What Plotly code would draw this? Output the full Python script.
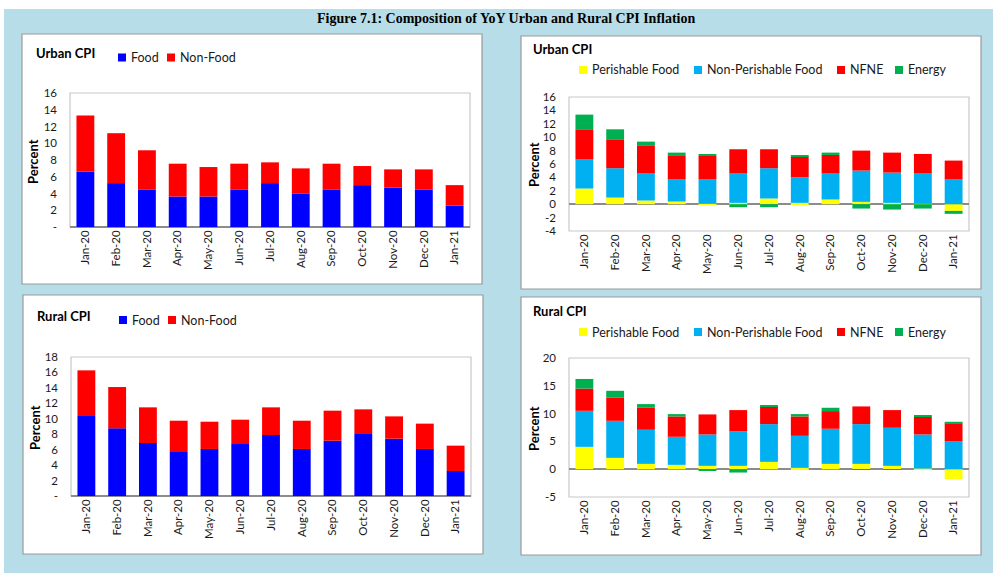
import plotly.graph_objects as go

months = ["Jan-20", "Feb-20", "Mar-20", "Apr-20", "May-20", "Jun-20", "Jul-20",
          "Aug-20", "Sep-20", "Oct-20", "Nov-20", "Dec-20", "Jan-21"]

# Urban CPI: Food / Non-Food
urban_food = [6.6, 5.24, 4.44, 3.64, 3.64, 4.44, 5.24, 3.96, 4.44, 5.0, 4.72, 4.44, 2.56]
urban_nonfood = [6.7, 5.96, 4.72, 3.92, 3.52, 3.12, 2.48, 3.04, 3.12, 2.28, 2.16, 2.44, 2.44]

# Rural CPI: Food / Non-Food
rural_food = [10.36, 8.76, 6.86, 5.70, 6.09, 6.73, 7.90, 6.09, 7.16, 8.03, 7.42, 6.09, 3.24]
rural_nonfood = [5.91, 5.35, 4.62, 4.05, 3.53, 3.15, 3.58, 3.66, 3.89, 3.19, 2.89, 3.28, 3.28]

# Urban CPI: four components
urban_perishable = [2.34, 0.99, 0.55, 0.40, 0.05, 0.20, 0.85, 0.20, 0.70, 0.35, 0.20, 0.05, -1.0]
urban_nonperishable = [4.32, 4.38, 4.02, 3.28, 3.63, 4.37, 4.52, 3.82, 3.87, 4.67, 4.52, 4.52, 3.68]
urban_nfne = [4.52, 4.32, 4.13, 3.52, 3.52, 3.63, 2.83, 3.04, 2.78, 2.98, 2.98, 2.93, 2.83]
urban_energy = [2.19, 1.49, 0.64, 0.50, 0.20, -0.45, -0.45, 0.20, 0.35, -0.65, -0.80, -0.65, -0.44]

# Rural CPI: four components
rural_perishable = [4.02, 2.04, 0.96, 0.78, 0.60, 0.60, 1.32, 0.24, 0.96, 0.96, 0.60, 0.10, -1.80]
rural_nonperishable = [6.48, 6.66, 6.13, 5.05, 5.65, 6.25, 6.79, 5.76, 6.31, 7.15, 6.85, 6.15, 4.98]
rural_nfne = [4.00, 4.15, 4.02, 3.66, 3.60, 3.78, 3.18, 3.49, 3.18, 3.18, 3.18, 3.24, 3.25]
rural_energy = [1.73, 1.25, 0.60, 0.42, -0.20, -0.60, 0.24, 0.42, 0.60, -0.10, -0.10, 0.24, 0.30]

W, H = 995, 575
FONT = "Lato"
TXT = "#1a1a1a"

def px(x):
    return x / W

def py(y):
    return 1 - y / H

fig = go.Figure()

# (values, name, colour, subplot, legend square-left x, legend centre y)
series = [
    (urban_food, "Food", "#0000ff", 1, 118, 57.5),
    (urban_nonfood, "Non-Food", "#ff0000", 1, 167, 57.5),
    (urban_perishable, "Perishable Food", "#ffff00", 2, 579, 70),
    (urban_nonperishable, "Non-Perishable Food", "#00b0f0", 2, 694, 70),
    (urban_nfne, "NFNE", "#ff0000", 2, 837, 70),
    (urban_energy, "Energy", "#00b050", 2, 895, 70),
    (rural_food, "Food", "#0000ff", 3, 119, 320),
    (rural_nonfood, "Non-Food", "#ff0000", 3, 168, 320),
    (rural_perishable, "Perishable Food", "#ffff00", 4, 579, 332),
    (rural_nonperishable, "Non-Perishable Food", "#00b0f0", 4, 694, 332),
    (rural_nfne, "NFNE", "#ff0000", 4, 837, 332),
    (rural_energy, "Energy", "#00b050", 4, 895, 332),
]

shapes = []
ann = []

# blue background
shapes.append(dict(type="rect", xref="paper", yref="paper", x0=px(4), x1=px(993), y0=py(573), y1=py(9),
                   fillcolor="#b7dde8", line=dict(width=0), layer="below"))
# white panels
panels = [(22, 34, 482, 284), (521, 36, 981, 289), (23, 295, 483, 554), (521, 297, 981, 555)]
for (a, b, c, d) in panels:
    shapes.append(dict(type="rect", xref="paper", yref="paper", x0=px(a), x1=px(c), y0=py(d), y1=py(b),
                       fillcolor="white", line=dict(color="#9a9a9a", width=1.2), layer="below"))

for vals, name, color, sp, lx, ly in series:
    sx = "" if sp == 1 else str(sp)
    fig.add_trace(go.Bar(x=months, y=vals, name=name, showlegend=False,
                         marker=dict(color=color, line=dict(width=0)),
                         xaxis="x" + sx, yaxis="y" + sx))
    # legend key
    shapes.append(dict(type="rect", xref="paper", yref="paper", x0=px(lx), x1=px(lx + 8),
                       y0=py(ly + 4), y1=py(ly - 4), fillcolor=color, line=dict(width=0)))
    ann.append(dict(text=name, x=px(lx + 11), y=py(ly), xref="paper", yref="paper", showarrow=False,
                    xanchor="left", yanchor="middle", font=dict(family=FONT, size=12.5, color=TXT)))

domains = {
    1: ((70, 470), (93, 227)),
    2: ((569, 969), (97, 231)),
    3: ((71, 471), (357, 496)),
    4: ((569, 969), (358, 497)),
}
yranges = {1: [0, 16], 2: [-4, 16], 3: [0, 18], 4: [-5, 20]}
ydticks = {1: 2, 2: 2, 3: 2, 4: 5}

layout = dict(
    width=W, height=H, margin=dict(l=0, r=0, t=0, b=0, autoexpand=False),
    paper_bgcolor="white", plot_bgcolor="rgba(0,0,0,0)",
    barmode="relative", bargap=0.42, showlegend=False,
    font=dict(family=FONT, size=11, color=TXT),
)

for i, ((x0, x1), (y0, y1)) in domains.items():
    sx = "" if i == 1 else str(i)
    r = yranges[i]
    d = ydticks[i]
    vals = list(range(r[0], r[1] + 1, d))
    texts = ["-" if (v == 0 and r[0] == 0) else str(v) for v in vals]
    layout["xaxis" + sx] = dict(domain=[px(x0), px(x1)], anchor="y" + sx, tickangle=-90,
                                showgrid=False, showline=False, ticks="",
                                tickfont=dict(family=FONT, size=11.5, color=TXT))
    layout["yaxis" + sx] = dict(domain=[py(y1), py(y0)], anchor="x" + sx, range=r,
                                tickvals=vals, ticktext=texts, showgrid=False,
                                zeroline=True, zerolinecolor="#8c8c8c", zerolinewidth=1.5,
                                ticks="", ticklabelstandoff=12,
                                tickfont=dict(family=FONT, size=11.5, color=TXT))
    # plot area border
    shapes.append(dict(type="rect", xref="x%s domain" % sx, yref="y%s domain" % sx, x0=0, x1=1, y0=0, y1=1,
                       line=dict(color="#c8c8c8", width=1.2), fillcolor="rgba(0,0,0,0)", layer="below"))

fig.update_layout(**layout)

ann.append(dict(text="<b>Figure 7.1: Composition of YoY Urban and Rural CPI Inflation</b>", x=px(506), y=py(19),
                xref="paper", yref="paper", showarrow=False, xanchor="center", yanchor="middle",
                font=dict(family="Liberation Serif", size=14, color="black")))
titles = [("Urban CPI", 34, 53), ("Urban CPI", 531, 49), ("Rural CPI", 35, 316), ("Rural CPI", 531, 311)]
for t, x, y in titles:
    ann.append(dict(text="<b>%s</b>" % t, x=px(x), y=py(y), xref="paper", yref="paper", showarrow=False,
                    xanchor="left", yanchor="middle", font=dict(family=FONT, size=13, color="black")))
percents = [(33, 162), (534, 165), (35, 428), (534, 429)]
for x, y in percents:
    ann.append(dict(text="<b>Percent</b>", x=px(x), y=py(y), xref="paper", yref="paper", showarrow=False,
                    textangle=-90, xanchor="center", yanchor="middle",
                    font=dict(family=FONT, size=13, color="black")))

fig.update_layout(shapes=shapes, annotations=ann)

fig.write_html("out.html", config={"displayModeBar": False},
               post_script="document.body.style.margin='0';")
